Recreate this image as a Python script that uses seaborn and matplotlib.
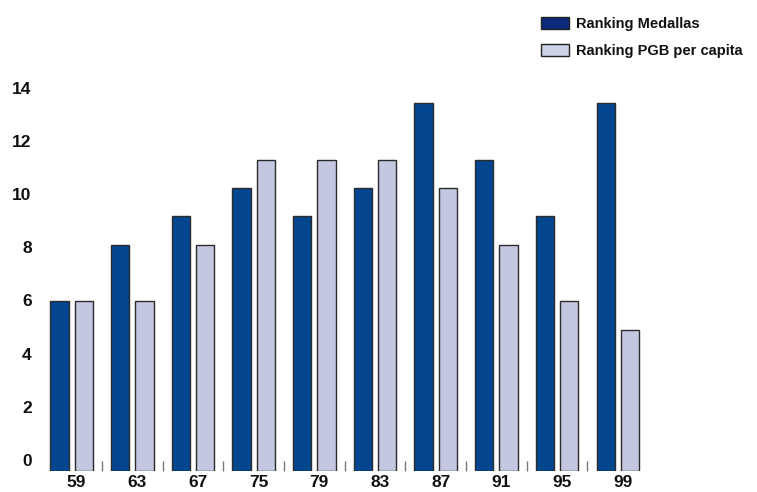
import numpy as np
import pandas as pd
import matplotlib
matplotlib.use("Agg")
import matplotlib.pyplot as plt
import matplotlib.transforms as mtransforms
from matplotlib.patches import Patch
import seaborn as sns

years = ["59", "63", "67", "75", "79", "83", "87", "91", "95", "99"]
medallas = [6, 8, 9, 10, 9, 10, 13, 11, 9, 13]
pgb = [6, 6, 8, 11, 11, 11, 10, 8, 6, 5]
series_names = ["Ranking Medallas", "Ranking PGB per capita"]
ytick_values = [0, 2, 4, 6, 8, 10, 12, 14]

bar_colors = ["#03468f", "#c3c7e0"]
legend_colors = ["#0b2a7c", "#cdd3e6"]
text_color = "#111111"

sns.set_style("white")
plt.rcParams["font.family"] = ["Liberation Sans", "DejaVu Sans"]
plt.rcParams["font.weight"] = "bold"
plt.rcParams["text.color"] = text_color
plt.rcParams["xtick.labelcolor"] = text_color
plt.rcParams["ytick.labelcolor"] = text_color

df = pd.DataFrame({
    "year": years * 2,
    "value": medallas + pgb,
    "serie": [series_names[0]] * len(years) + [series_names[1]] * len(years),
})

fig = plt.figure(figsize=(7.57, 4.92), dpi=100)
ax = fig.add_axes([40 / 757, 21 / 492, 610 / 757, 396 / 492])

sns.barplot(
    data=df, x="year", y="value", hue="serie", order=years,
    hue_order=series_names, palette=bar_colors, saturation=1, gap=0.25,
    edgecolor="#2b2b2b", linewidth=1.0, legend=False, ax=ax,
)

ax.set_xlim(-0.52, 9.53)
ax.set_ylim(0, 14)
sns.despine(ax=ax, left=True, bottom=True, top=True, right=True)
ax.set_xlabel("")
ax.set_ylabel("")

# y labels in the original sit a bit off the bar scale
ytick_pos = [0.39 + 0.94 * v for v in ytick_values]
ax.set_yticks(ytick_pos)
ax.set_yticklabels([str(v) for v in ytick_values], fontsize=12.5, fontweight="bold")
ax.tick_params(axis="y", length=0, pad=6)

ax.set_xticks(range(len(years)))
ax.set_xticklabels(years, fontsize=12.5, fontweight="bold")
ax.tick_params(axis="x", which="major", length=0, pad=3)
offset = mtransforms.ScaledTranslation(5 / 100, 0, fig.dpi_scale_trans)
for lbl in ax.get_xticklabels():
    lbl.set_transform(lbl.get_transform() + offset)

ax.set_xticks(np.arange(0.5, len(years) - 1, 1.0), minor=True)
ax.tick_params(axis="x", which="minor", bottom=True, direction="in", length=7.5,
               width=1.0, color="#777777")

handles = [Patch(facecolor=c, edgecolor="#222222", linewidth=1.0) for c in legend_colors]
fig.legend(
    handles, series_names, loc="upper left", bbox_to_anchor=(528 / 757, 1 - 4 / 492),
    frameon=False, prop={"weight": "bold", "size": 10.5},
    handlelength=1.9, handleheight=0.9, handletextpad=0.5, labelspacing=0.85,
)

fig.savefig("out.png", dpi=100)
